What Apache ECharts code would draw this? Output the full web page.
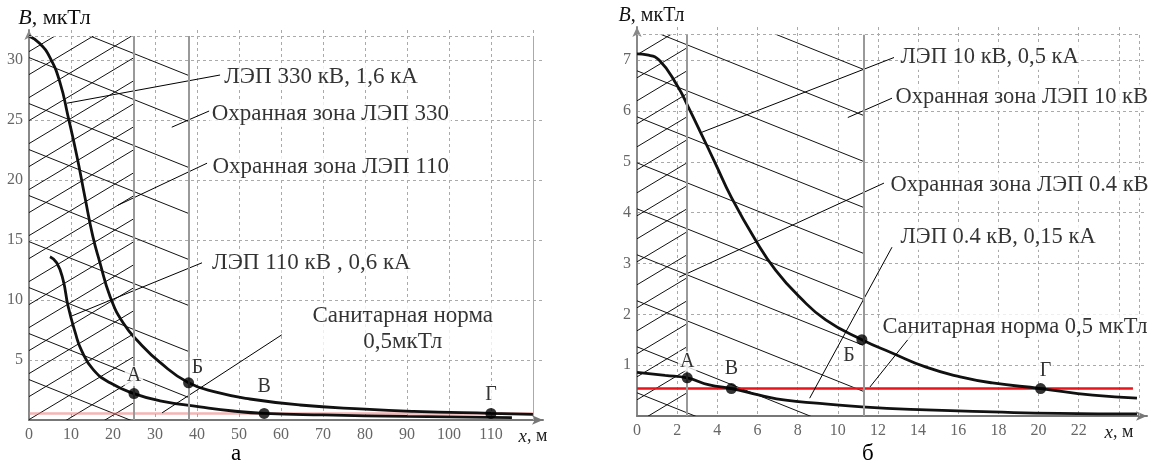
<!DOCTYPE html>
<html><head><meta charset="utf-8">
<script src="https://cdn.jsdelivr.net/npm/echarts@6/dist/echarts.min.js"></script>
<style>html,body{margin:0;padding:0;background:#fff}#c{width:1158px;height:466px}</style>
</head><body><div id="c"></div>
<script>
// ---------- DATA: panel "а" ----------
const curveA330 = [[0,32],[2.5,31.4],[5,30.2],[7.4,28.1],[9.3,25.3],[11.4,22],[13.3,18.6],[15.2,15.3],[16.9,13.1],[19.3,10.3],[22.4,8.1],[26.4,6.4],[31.2,4.8],[38,3.1],[44.8,2.3],[52.6,1.75],[64.5,1.25],[80,0.9],[91.6,0.72],[110,0.55],[120,0.47]];
const curveA110 = [[5,13.6],[6.6,13.1],[8.1,11.7],[9.3,9.5],[11,7.3],[12.5,5.8],[15.3,4.2],[19.3,3.1],[25,2.2],[31.2,1.6],[40.7,1.1],[48.6,0.75],[56,0.55],[70,0.42],[90,0.3],[115,0.2]];
const pointNamesA = ['А','Б','В','Г'];
const pointXA = [25, 38, 56, 110];
const pointYA = [2.2, 3.1, 0.55, 0.55];
const zonesA = [25, 38];
const gridTopA = 32, gridRightA = 120;
const normA = 0.55;
const notesA = ['ЛЭП 330 кВ, 1,6 кА','Охранная зона ЛЭП 330','Охранная зона ЛЭП 110','ЛЭП 110 кВ , 0,6 кА','Санитарная норма\n0,5мкТл'];
const noteAtA = [[45.9,28.6],[42.9,25.5],[43.1,21.1],[43,13.1],[89,7.6]];
const leadersA = [[[9.05,26.4],[45.5,28.75]],[[34,24.4],[42.9,25.75]],[[21.2,17.9],[42.4,21.4]],[[10.2,8.67],[41.2,13.1]],[[31.7,0.6],[60.2,7.1]]];

// ---------- DATA: panel "б" ----------
const curveB10 = [[0,7.12],[0.5,7.1],[1.1,7.0],[2.0,6.5],[2.55,6.08],[3.2,5.55],[3.9,4.97],[4.7,4.3],[5.9,3.46],[6.9,2.87],[8.1,2.34],[9.4,1.89],[11.2,1.5],[12.7,1.24],[14.4,0.96],[16.1,0.77],[17.7,0.65],[20.1,0.54],[22.7,0.41],[24.9,0.35]];
const curveB04 = [[0,0.86],[1.4,0.8],[2.5,0.75],[3.6,0.61],[4.7,0.54],[6.1,0.41],[7.4,0.31],[9.1,0.25],[11.2,0.18],[14.4,0.12],[17.7,0.08],[21,0.05],[24.9,0.04]];
const pointNamesB = ['А','В','Б','Г'];
const pointXB = [2.5, 4.7, 11.2, 20.1];
const pointYB = [0.75, 0.54, 1.5, 0.54];
const zonesB = [2.5, 11.3];
const gridTopB = 7.5, gridRightB = 25;
const normB = 0.54, normEndB = 24.7;
const notesB = ['ЛЭП 10 кВ, 0,5 кА','Охранная зона ЛЭП 10 кВ','Охранная зона ЛЭП 0.4 кВ','ЛЭП 0.4 кВ, 0,15 кА','Санитарная норма 0,5 мкТл'];
const noteAtB = [[13.0,7.06],[12.75,6.27],[12.5,4.54],[13.0,3.52],[12.1,1.75]];
const leadersB = [[[3.23,5.58],[12.8,7.05]],[[10.5,5.87],[12.7,6.25]],[[2.1,2.73],[12.3,4.58]],[[8.6,0.35],[12.7,3.32]],[[11.6,0.57],[13.75,1.63]]];

// ---------- STYLE ----------
const FONT = 'Liberation Serif';
const chart = echarts.init(document.getElementById('c'));

function hatch(cross){
  const W=115,H=46;
  const c=document.createElement('canvas'); c.width=W; c.height=H;
  const g=c.getContext('2d'); g.strokeStyle='#111'; g.lineWidth=1;
  g.beginPath();
  for(let k=-1;k<=1;k++){ g.moveTo(0,k*H); g.lineTo(W,k*H+H); }
  if(cross){ for(let k=0;k<=6;k++){ g.moveTo(0,k*23); g.lineTo(W,k*23-69); } }
  g.stroke();
  return {image:c, repeat:'repeat'};
}
const patCross = hatch(true), patBack = hatch(false);

const labelMapA = {'А':{position:'top',distance:2},'Б':{position:'top',distance:0,offset:[9,0]},'В':{position:'top',distance:11},'Г':{position:'top',distance:3}};
const labelMapB = {'А':{position:'top',distance:1},'В':{position:'top',distance:4},'Б':{position:'bottom',distance:1,offset:[-13,0]},'Г':{position:'top',distance:2,offset:[5,0]}};

function xAxisCfg(gi,max,step,last){
  return {gridIndex:gi,type:'value',min:0,max:max,interval:step,
    axisLine:{show:true,onZero:false,symbol:['none','arrow'],symbolSize:[7,11],lineStyle:{color:'#777',width:2}},
    axisTick:{show:false},
    axisLabel:{color:'#666',fontFamily:FONT,fontSize:16,margin:7,
      formatter:v=>{ if(Math.abs(v/step-Math.round(v/step))>1e-6) return ''; if(Math.abs(v-last)<1e-6) return '{i|x}{n|, м}'; return String(v);},
      rich:{i:{fontStyle:'italic',fontFamily:FONT,fontSize:19,color:'#222'},n:{fontFamily:FONT,fontSize:18,color:'#222'}}},
    splitLine:{show:true,showMinLine:false,showMaxLine:false,lineStyle:{type:[3,3],color:'#aaa',width:1}}};
}
function yAxisCfg(gi,max,step,pad,fs){
  return {gridIndex:gi,type:'value',min:0,max:max,interval:step,
    name:'{i|B}{n|, мкТл}',nameLocation:'end',nameGap:1,
    nameTextStyle:{fontFamily:FONT,fontSize:fs,color:'#111',align:'center',verticalAlign:'bottom',padding:[0,0,0,pad],
      rich:{i:{fontStyle:'italic',fontFamily:FONT,fontSize:fs,color:'#111'},n:{fontFamily:FONT,fontSize:fs,color:'#111'}}},
    axisLine:{show:true,onZero:false,symbol:['none','arrow'],symbolSize:[7,10],lineStyle:{color:'#888',width:2}},
    axisTick:{show:false},
    axisLabel:{color:'#666',fontFamily:FONT,fontSize:16,margin:6,
      formatter:v=>{ if(v===0) return ''; if(Math.abs(v/step-Math.round(v/step))>1e-6) return ''; return String(v);}},
    splitLine:{show:true,showMinLine:false,showMaxLine:false,lineStyle:{type:[3,3],color:'#aaa',width:1}}};
}

function panelSeries(gi, c1, c2, names, xs, ys, lmap, zones, top, right, norm, normEnd, normColor, notes, noteAt, leaders, noteFs){
  const s = [];
  const dot = {type:[3,3],color:'#aaa',width:1};
  s.push({type:'line',xAxisIndex:gi,yAxisIndex:gi,data:[],z:1,silent:true,
    markArea:{silent:true,data:[
      [{coord:[0,0],itemStyle:{color:patCross,opacity:1}},{coord:[zones[0],top]}],
      [{coord:[zones[0],0],itemStyle:{color:patBack,opacity:1}},{coord:[zones[1],top]}]
    ]},
    markLine:{silent:true,symbol:['none','none'],label:{show:false},lineStyle:{color:'#999',width:2,type:'solid'},
      data:[
        [{coord:[zones[0],0]},{coord:[zones[0],top]}],
        [{coord:[zones[1],0]},{coord:[zones[1],top]}],
        [{coord:[0,top],lineStyle:dot},{coord:[right,top]}],
        [{coord:[right,0],lineStyle:dot},{coord:[right,top]}]
      ]}
  });
  s.push({type:'line',xAxisIndex:gi,yAxisIndex:gi,data:[[0,norm],[normEnd,norm]],symbol:'none',silent:true,z:3,
    lineStyle:{color:normColor,width:2.5}});
  [c1,c2].forEach(c=>s.push({type:'line',xAxisIndex:gi,yAxisIndex:gi,data:c,smooth:0.5,symbol:'none',silent:true,z:4,
    lineStyle:{color:'#111',width:2.8}}));
  leaders.forEach(l=>s.push({type:'line',xAxisIndex:gi,yAxisIndex:gi,data:l,symbol:'none',silent:true,z:4,
    lineStyle:{color:'#000',width:1}}));
  s.push({type:'scatter',xAxisIndex:gi,yAxisIndex:gi,silent:true,z:6,symbolSize:11,itemStyle:{color:'#000'},
    data:names.map((n,i)=>({name:n,value:[xs[i],ys[i]],label:Object.assign({show:true,formatter:'{b}',color:'#000',fontFamily:FONT,fontSize:20,backgroundColor:'#fff',padding:[0,2]},lmap[n])}))});
  s.push({type:'scatter',xAxisIndex:gi,yAxisIndex:gi,silent:true,z:5,symbolSize:1,itemStyle:{color:'rgba(0,0,0,0)'},
    data:notes.map((t,i)=>{
      const d={name:t,value:noteAt[i]};
      if(t.indexOf('\n')>=0) d.label={position:'inside',align:'center'};
      return d;}),
    label:{show:true,formatter:'{b}',fontFamily:FONT,fontSize:noteFs,color:'#000',backgroundColor:'#fff',padding:[0,2],lineHeight:26,
      position:'right',distance:0}});
  return s;
}

const option = {
  backgroundColor:'#fff',
  animation:false,
  title:[
    {text:'а',left:231,top:442,padding:0,textStyle:{fontFamily:FONT,fontSize:23,fontWeight:'normal',color:'#000'}},
    {text:'б',left:862,top:442,padding:0,textStyle:{fontFamily:FONT,fontSize:23,fontWeight:'normal',color:'#000'}}
  ],
  grid:[
    {left:29,top:30,width:514,height:390},
    {left:637,top:27,width:510,height:389}
  ],
  xAxis:[xAxisCfg(0,122.4,10,120), xAxisCfg(1,25.4,2,24)],
  yAxis:[yAxisCfg(0,32.5,5,51,22), yAxisCfg(1,7.65,1,29,20)],
  series:[].concat(
    panelSeries(0,curveA330,curveA110,pointNamesA,pointXA,pointYA,labelMapA,zonesA,gridTopA,gridRightA,normA,gridRightA,'rgba(236,120,120,0.55)',notesA,noteAtA,leadersA,23),
    panelSeries(1,curveB10,curveB04,pointNamesB,pointXB,pointYB,labelMapB,zonesB,gridTopB,gridRightB,normB,normEndB,'#e8141a',notesB,noteAtB,leadersB,22.5)
  )
};
chart.setOption(option);
</script></body></html>
